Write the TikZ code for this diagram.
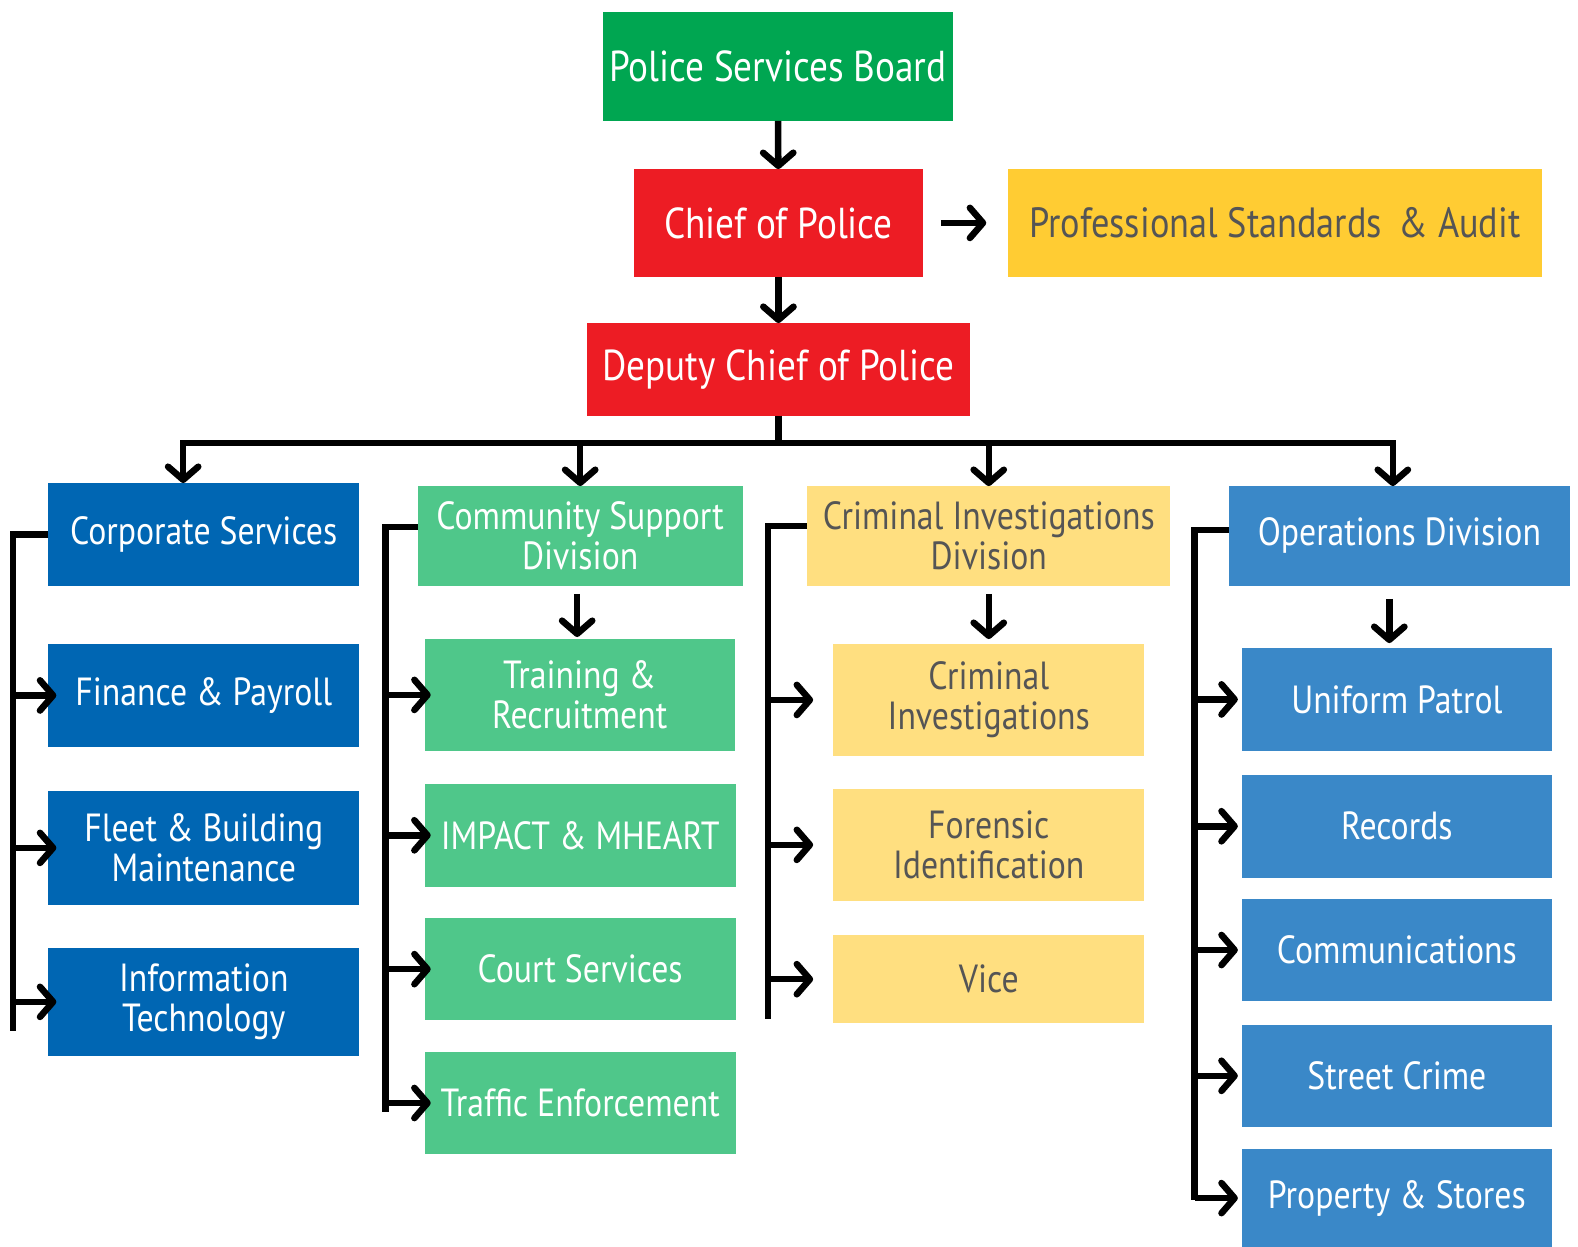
\documentclass[tikz,border=0pt]{standalone}
\usepackage{fontspec}
\setmainfont{PT Sans}[FakeStretch=0.86]
\usetikzlibrary{arrows.meta,positioning}
\definecolor{boardgreen}{HTML}{00A651}
\definecolor{chiefred}{HTML}{ED1C24}
\definecolor{auditgold}{HTML}{FFCC33}
\definecolor{corpblue}{HTML}{0066B3}
\definecolor{commgreen}{HTML}{4FC78A}
\definecolor{crimyellow}{HTML}{FFDF80}
\definecolor{opsblue}{HTML}{3A88C8}
\definecolor{darktext}{HTML}{555555}
\tikzset{
  unit/.style={inner sep=0pt,outer sep=0pt,align=center,
               font=\fontsize{39}{40}\selectfont,text=white},
  sz/.style 2 args={minimum width=#1pt,minimum height=#2pt},
  topbox/.style={unit,font=\fontsize{43}{44}\selectfont},
  goldbox/.style={unit,fill=auditgold,text=darktext,
                  font=\fontsize{42}{44}\selectfont},
  corpbox/.style={unit,fill=corpblue},
  commbox/.style={unit,fill=commgreen},
  crimbox/.style={unit,fill=crimyellow,text=darktext},
  opsbox/.style={unit,fill=opsblue},
  bar/.style={line width=6.5pt,draw=black},
  arr/.style={bar,-{Straight Barb[length=13pt,width=30pt,line cap=round,
              line join=round]}}
}
\begin{document}
\begin{tikzpicture}[x=1pt,y=-1pt]
  \useasboundingbox (0,0) rectangle (1568,1239);
  % command levels
  \node[topbox,fill=boardgreen,sz={348}{108}] (board) at (773,66) {Police Services Board};
  \node[topbox,fill=chiefred,sz={287}{107}] (chief) at (773.5,221.5) {Chief of Police};
  \node[goldbox,sz={530}{107}] (audit) at (1267,221.5) {Professional Standards\, \& Audit};
  \node[topbox,fill=chiefred,sz={381}{92}] (deputy) at (773.5,367) {Deputy Chief of Police};
  % divisions
  \node[corpbox,sz={309}{102}] (corp) at (202.5,531) {Corporate Services};
  \node[commbox,sz={323}{99}] (comm) at (576.5,532.5) {Community Support\\Division};
  \node[crimbox,sz={361}{99}] (crim) at (982.5,532.5) {Criminal Investigations\\Division};
  \node[opsbox,sz={339}{99}] (ops) at (1390.5,532.5) {Operations Division};
  % corporate services units
  \node[corpbox,sz={309}{102}] (fin) at (202.5,691) {Finance \& Payroll};
  \node[corpbox,sz={309}{113}] (fleet) at (202.5,842.5) {Fleet \& Building\\Maintenance};
  \node[corpbox,sz={309}{107}] (it) at (202.5,995.5) {Information\\Technology};
  % community support units
  \node[commbox,sz={308}{111}] (train) at (576,690.5) {Training \&\\Recruitment};
  \node[commbox,sz={309}{102}] (impact) at (576.5,830) {IMPACT \& MHEART};
  \node[commbox,sz={309}{102}] (court) at (576.5,963) {Court Services};
  \node[commbox,sz={309}{102}] (traffic) at (576.5,1096) {Traffic Enforcement};
  % criminal investigations units
  \node[crimbox,sz={309}{111}] (ci) at (982.5,695.5) {Criminal\\Investigations};
  \node[crimbox,sz={309}{111}] (foren) at (982.5,839.5) {Forensic\\Identification};
  \node[crimbox,sz={309}{88}] (vice) at (982.5,973) {Vice};
  % operations units
  \node[opsbox,sz={308}{102}] (unif) at (1388,695) {Uniform Patrol};
  \node[opsbox,sz={308}{102}] (rec) at (1388,821) {Records};
  \node[opsbox,sz={308}{102}] (comms) at (1388,944) {Communications};
  \node[opsbox,sz={308}{102}] (street) at (1388,1069) {Street Crime};
  \node[opsbox,sz={308}{97}] (prop) at (1388,1190.5) {Property \& Stores};

  % chain of command
  \draw[arr] (board) -- (chief);
  \draw[arr,shorten <=18pt,shorten >=22pt] (chief) -- (audit);
  \draw[arr] (chief) -- (deputy);

  % bus to the divisions
  \coordinate (busL) at (182,440);
  \coordinate (busR) at (1384,440);
  \draw[bar] (deputy.south) -- (deputy.south |- busL);
  \draw[bar,line cap=rect] (busL) -- (busR);
  \draw[arr] (busL) -- (busL |- corp.north);
  \draw[arr] (busL -| comm.north) -- (comm.north);
  \draw[arr] (busL -| crim.north) -- (crim.north);
  \draw[arr] (busR) -- (busR |- ops.north);

  % heads to first units
  \draw[arr,shorten <=8pt,shorten >=2pt] ([xshift=-3pt]comm.south) -- ([xshift=-3pt]comm.south |- train.north);
  \draw[arr,shorten <=8pt,shorten >=5pt] (crim.south) -- (crim.south |- ci.north);
  \draw[arr,shorten <=13pt,shorten >=5pt] ([xshift=-10pt]ops.south) -- ([xshift=-10pt]ops.south |- unif.north);

  % brackets
  \coordinate (corpEnd) at (13,1024);
  \draw[bar] (corp.west) -| (corpEnd);
  \foreach \u in {fin,fleet,it}
    \draw[arr] (corpEnd |- \u.west) -- ([xshift=8pt]\u.west);

  \coordinate (commEnd) at (383,1105);
  \draw[bar] ([yshift=9pt]comm.west) -| (commEnd);
  \foreach \u in {train,impact,court,traffic}
    \draw[arr] (commEnd |- \u.west) -- ([xshift=6pt]\u.west);

  \coordinate (crimEnd) at (763,1013);
  \draw[bar] ([yshift=10pt]crim.west) -| (crimEnd);
  \foreach \u in {ci,foren,vice}
    \draw[arr] (crimEnd |- \u.west) -- ([xshift=-20pt]\u.west);

  \coordinate (opsEnd) at (1187,1192);
  \draw[bar] ([yshift=6pt]ops.west) -| (opsEnd);
  \foreach \u in {unif,rec,comms,street,prop}
    \draw[arr] (opsEnd |- \u.west) -- ([xshift=-4pt]\u.west);
\end{tikzpicture}
\end{document}
